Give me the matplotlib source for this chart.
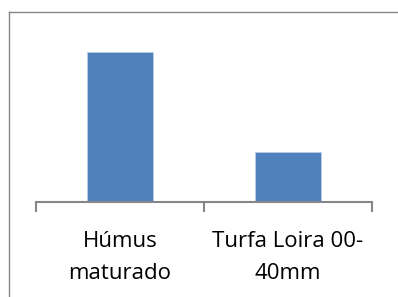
import matplotlib
matplotlib.use("Agg")
import matplotlib.pyplot as plt
from matplotlib.lines import Line2D

categories = ["Húmus\nmaturado", "Turfa Loira 00-\n40mm"]
values = [3.0, 1.0]

W, H = 398, 297
fig = plt.figure(figsize=(W / 100, H / 100), dpi=100)
plt.rcParams['font.family'] = ['Open Sans', 'DejaVu Sans']

# outer frame (only left and top edges visible)
fig.add_artist(Line2D([8.5 / W, 8.5 / W], [0, 1 - 11.5 / H], color="#868686", lw=1.0))
fig.add_artist(Line2D([8.5 / W, 1], [1 - 11.5 / H, 1 - 11.5 / H], color="#868686", lw=1.0))

ax_h = 180
ax = fig.add_axes([36 / W, (H - 202) / H, (372 - 36) / W, ax_h / H])
x = range(len(categories))
ax.bar(x, values, width=0.39, color="#4F81BD", edgecolor="#B9CDE5", linewidth=0.6)

ax.set_xlim(-0.5, len(categories) - 0.5)
ax.set_ylim(0, 3.6)
for s in ["top", "right", "left"]:
    ax.spines[s].set_visible(False)
ax.spines["bottom"].set_color("#868686")
ax.spines["bottom"].set_linewidth(1.5)
ax.set_yticks([])

ax.set_xticks([-0.5, 0.5, 1.5])
ax.set_xticklabels([])
ax.tick_params(axis="x", length=7, width=1.5, color="#868686")

# category labels, one baseline per line
baselines = [247, 279]
for i, lab in enumerate(categories):
    for line, b in zip(lab.split("\n"), baselines):
        ax.text(i, -(b - 202) / ax_h, line, ha="center", va="baseline",
                fontsize=16, color="black", transform=ax.get_xaxis_transform())

fig.savefig("out.png", dpi=100)
